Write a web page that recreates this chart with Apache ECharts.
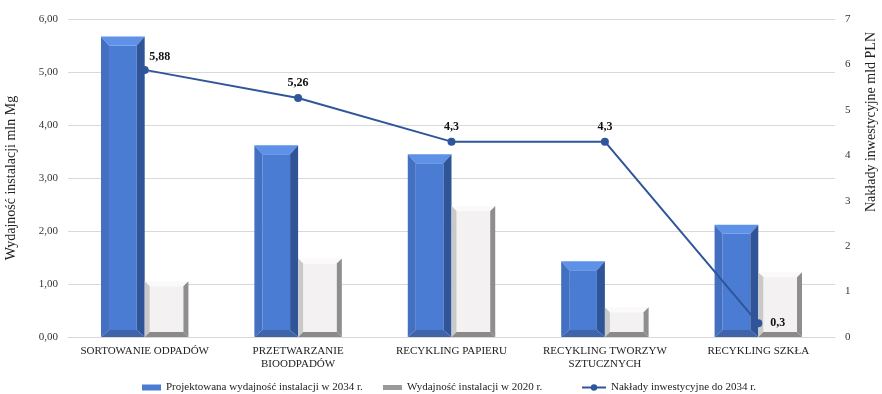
<!DOCTYPE html>
<html><head><meta charset="utf-8">
<script src="https://cdn.jsdelivr.net/npm/echarts@6/dist/echarts.min.js"></script>
<style>html,body{margin:0;padding:0;background:#fff}#c{width:882px;height:394px}</style>
</head><body><div id="c"></div>
<script>
const categories = ['SORTOWANIE ODPADÓW', 'PRZETWARZANIE\nBIOODPADÓW', 'RECYKLING PAPIERU', 'RECYKLING TWORZYW\nSZTUCZNYCH', 'RECYKLING SZKŁA'];
const projected2034 = [5.67, 3.62, 3.45, 1.43, 2.12];
const capacity2020 = [1.05, 1.48, 2.47, 0.56, 1.22];
const investment2034 = [5.88, 5.26, 4.3, 4.3, 0.3];
const leftTicks = { min: 0, max: 6, interval: 1 };
const rightTicks = { min: 0, max: 7, interval: 1 };
const seriesNames = ['Projektowana wydajność instalacji w 2034 r.', 'Wydajność instalacji w 2020 r.', 'Nakłady inwestycyjne do 2034 r.'];
const rightTitle = 'Nakłady inwestycyjne mld PLN';

const FONT = '"Liberation Serif", "DejaVu Serif", serif';

function bevelBar(side, pal, dt, ds, db) {
  return function (params, api) {
    const idx = api.value(0), val = api.value(1);
    const base = api.coord([idx, 0]);
    const top = api.coord([idx, val]);
    const bw = api.size([1, 0])[0] * 0.285;
    const x0 = side < 0 ? base[0] - bw : base[0];
    const x1 = x0 + bw;
    const yt = top[1], yb = base[1];
    const poly = (pts, c) => ({ type: 'polygon', shape: { points: pts }, style: { fill: c } });
    return {
      type: 'group',
      children: [
        { type: 'rect', shape: { x: x0 + ds, y: yt + dt, width: bw - 2 * ds, height: yb - yt - dt - db }, style: { fill: pal.front } },
        poly([[x0, yt], [x1, yt], [x1 - ds, yt + dt], [x0 + ds, yt + dt]], pal.top),
        poly([[x0, yt], [x0 + ds, yt + dt], [x0 + ds, yb - db], [x0, yb]], pal.left),
        poly([[x1, yt], [x1, yb], [x1 - ds, yb - db], [x1 - ds, yt + dt]], pal.right),
        poly([[x0, yb], [x0 + ds, yb - db], [x1 - ds, yb - db], [x1, yb]], pal.bottom)
      ]
    };
  };
}

const bluePal = { front: '#4a7cd3', top: '#5e91e8', left: '#4470c2', right: '#2f5598', bottom: '#3f64aa' };
const grayPal = { front: '#f3f1f2', top: '#fbfafa', left: '#c9c9c9', right: '#8e8e8e', bottom: '#8a8a8a' };

const legendBase = {
  top: 377, itemWidth: 19, itemHeight: 6,
  textStyle: { fontFamily: FONT, fontSize: 11, color: '#222' }
};

const chart = echarts.init(document.getElementById('c'));
chart.setOption({
  animation: false,
  backgroundColor: '#fff',
  textStyle: { fontFamily: FONT },
  grid: { left: 68, right: 47, top: 19, bottom: 57, outerBoundsMode: 'none', containLabel: false },
  legend: [
    Object.assign({}, legendBase, { left: 137, data: [{ name: seriesNames[0], icon: 'rect', itemStyle: { color: '#4a7cd3' } }] }),
    Object.assign({}, legendBase, { left: 378, itemHeight: 5, data: [{ name: seriesNames[1], icon: 'rect', itemStyle: { color: '#9a9a9a' } }] }),
    Object.assign({}, legendBase, { left: 576, itemWidth: 24, itemHeight: 8, data: [{ name: seriesNames[2] }] })
  ],
  graphic: [{
    type: 'text', x: 871, y: 122, rotation: Math.PI / 2,
    style: { text: rightTitle, fontFamily: FONT, fontSize: 14, fill: '#222', align: 'center', verticalAlign: 'middle' }
  }],
  xAxis: {
    type: 'category', data: categories,
    axisLine: { lineStyle: { color: '#d9d9d9' } }, axisTick: { show: false },
    axisLabel: { fontFamily: FONT, fontSize: 11, color: '#222', interval: 0, lineHeight: 13, margin: 8 }
  },
  yAxis: [
    {
      type: 'value', min: leftTicks.min, max: leftTicks.max, interval: leftTicks.interval,
      name: 'Wydajność instalacji mln Mg', nameLocation: 'middle', nameGap: 50, nameRotate: 90,
      nameTextStyle: { fontFamily: FONT, fontSize: 14, color: '#222' },
      axisLabel: { fontFamily: FONT, fontSize: 11, color: '#333', formatter: v => v.toFixed(2).replace('.', ','), margin: 10 },
      axisLine: { show: false }, axisTick: { show: false },
      splitLine: { lineStyle: { color: '#d9d9d9' } }
    },
    {
      type: 'value', min: rightTicks.min, max: rightTicks.max, interval: rightTicks.interval,
      axisLabel: { fontFamily: FONT, fontSize: 11, color: '#333', margin: 10 },
      axisLine: { show: false }, axisTick: { show: false }, splitLine: { show: false }
    }
  ],
  series: [
    {
      name: seriesNames[0], type: 'custom', yAxisIndex: 0,
      itemStyle: { color: '#4a7cd3' },
      encode: { x: 0, y: 1 },
      renderItem: bevelBar(-1, bluePal, 9, 8, 7),
      data: projected2034.map((v, i) => [i, v]), z: 2
    },
    {
      name: seriesNames[1], type: 'custom', yAxisIndex: 0,
      itemStyle: { color: '#9a9a9a' },
      encode: { x: 0, y: 1 },
      renderItem: bevelBar(1, grayPal, 5, 5, 5),
      data: capacity2020.map((v, i) => [i, v]), z: 2
    },
    {
      name: seriesNames[2], type: 'line', yAxisIndex: 1, z: 5,
      symbol: 'circle', symbolSize: 8,
      lineStyle: { color: '#2f559a', width: 2 },
      itemStyle: { color: '#2f559a' },
      label: {
        show: true, position: 'top', fontFamily: FONT, fontSize: 12, fontWeight: 'bold', color: '#111',
        formatter: p => String(p.value).replace('.', ',')
      },
      data: investment2034.map((v, i) => {
        if (i === 0) return { value: v, label: { position: 'top', offset: [15, 2] } };
        if (i === 4) return { value: v, label: { position: 'right', distance: 8 } };
        return v;
      })
    }
  ]
});
</script></body></html>
